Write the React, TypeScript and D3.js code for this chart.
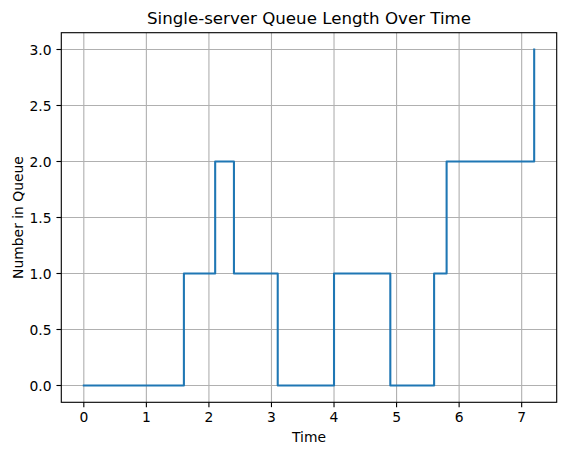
import React from "react";
import * as d3 from "d3";

const times = [0, 1.6, 2.1, 2.4, 3.1, 4.0, 4.9, 5.6, 5.8, 7.2];
const queueLengths = [0, 1, 2, 1, 0, 1, 0, 1, 2, 3];
const xTicks = [0, 1, 2, 3, 4, 5, 6, 7];
const yTicks = [0, 0.5, 1.0, 1.5, 2.0, 2.5, 3.0];

const W = 567;
const H = 455;
const L = 61.3;
const R = 556.7;
const T = 32.7;
const B = 402.3;
const FONT = "DejaVu Sans, sans-serif";

export default function App() {
  const xMin = d3.min(times)!;
  const xMax = d3.max(times)!;
  const yMin = d3.min(queueLengths)!;
  const yMax = d3.max(queueLengths)!;
  const xm = (xMax - xMin) * 0.05;
  const ym = (yMax - yMin) * 0.05;
  const x = d3.scaleLinear().domain([xMin - xm, xMax + xm]).range([L, R]);
  const y = d3.scaleLinear().domain([yMin - ym, yMax + ym]).range([B, T]);
  const pts: [number, number][] = times.map((t, i) => [t, queueLengths[i]]);
  const line = d3
    .line<[number, number]>()
    .x((d) => x(d[0]))
    .y((d) => y(d[1]))
    .curve(d3.curveStepAfter);
  const tick = 4.86;
  const pad = 4.86;
  return (
    <svg width={W} height={H} style={{ display: "block", margin: "-8px" }}>
      <rect x={0} y={0} width={W} height={H} fill="#fff" />
      {xTicks.map((t) => (
        <line key={"gx" + t} x1={x(t)} x2={x(t)} y1={T} y2={B} stroke="#b0b0b0" strokeWidth={1.11} />
      ))}
      {yTicks.map((t) => (
        <line key={"gy" + t} x1={L} x2={R} y1={y(t)} y2={y(t)} stroke="#b0b0b0" strokeWidth={1.11} />
      ))}
      <path d={line(pts)!} fill="none" stroke="#1f77b4" strokeWidth={2.08} strokeLinejoin="round" strokeLinecap="square" />
      <rect x={L} y={T} width={R - L} height={B - T} fill="none" stroke="#000" strokeWidth={1.11} />
      {xTicks.map((t) => (
        <g key={"tx" + t}>
          <line x1={x(t)} x2={x(t)} y1={B} y2={B + tick} stroke="#000" strokeWidth={1.11} />
          <text x={x(t)} y={B + tick + pad + 10.3} textAnchor="middle" fontFamily={FONT} fontSize={13.89} fill="#000">
            {t}
          </text>
        </g>
      ))}
      {yTicks.map((t) => (
        <g key={"ty" + t}>
          <line x1={L - tick} x2={L} y1={y(t)} y2={y(t)} stroke="#000" strokeWidth={1.11} />
          <text x={L - tick - pad} y={y(t) + 5} textAnchor="end" fontFamily={FONT} fontSize={13.89} fill="#000">
            {t.toFixed(1)}
          </text>
        </g>
      ))}
      <text x={(L + R) / 2} y={442} textAnchor="middle" fontFamily={FONT} fontSize={13.89} fill="#000">
        Time
      </text>
      <text
        transform={`translate(22.5, ${(T + B) / 2}) rotate(-90)`}
        textAnchor="middle"
        fontFamily={FONT}
        fontSize={13.89}
        fill="#000"
      >
        Number in Queue
      </text>
      <text x={(L + R) / 2} y={T - 9} textAnchor="middle" fontFamily={FONT} fontSize={16.67} fill="#000">
        Single-server Queue Length Over Time
      </text>
    </svg>
  );
}
